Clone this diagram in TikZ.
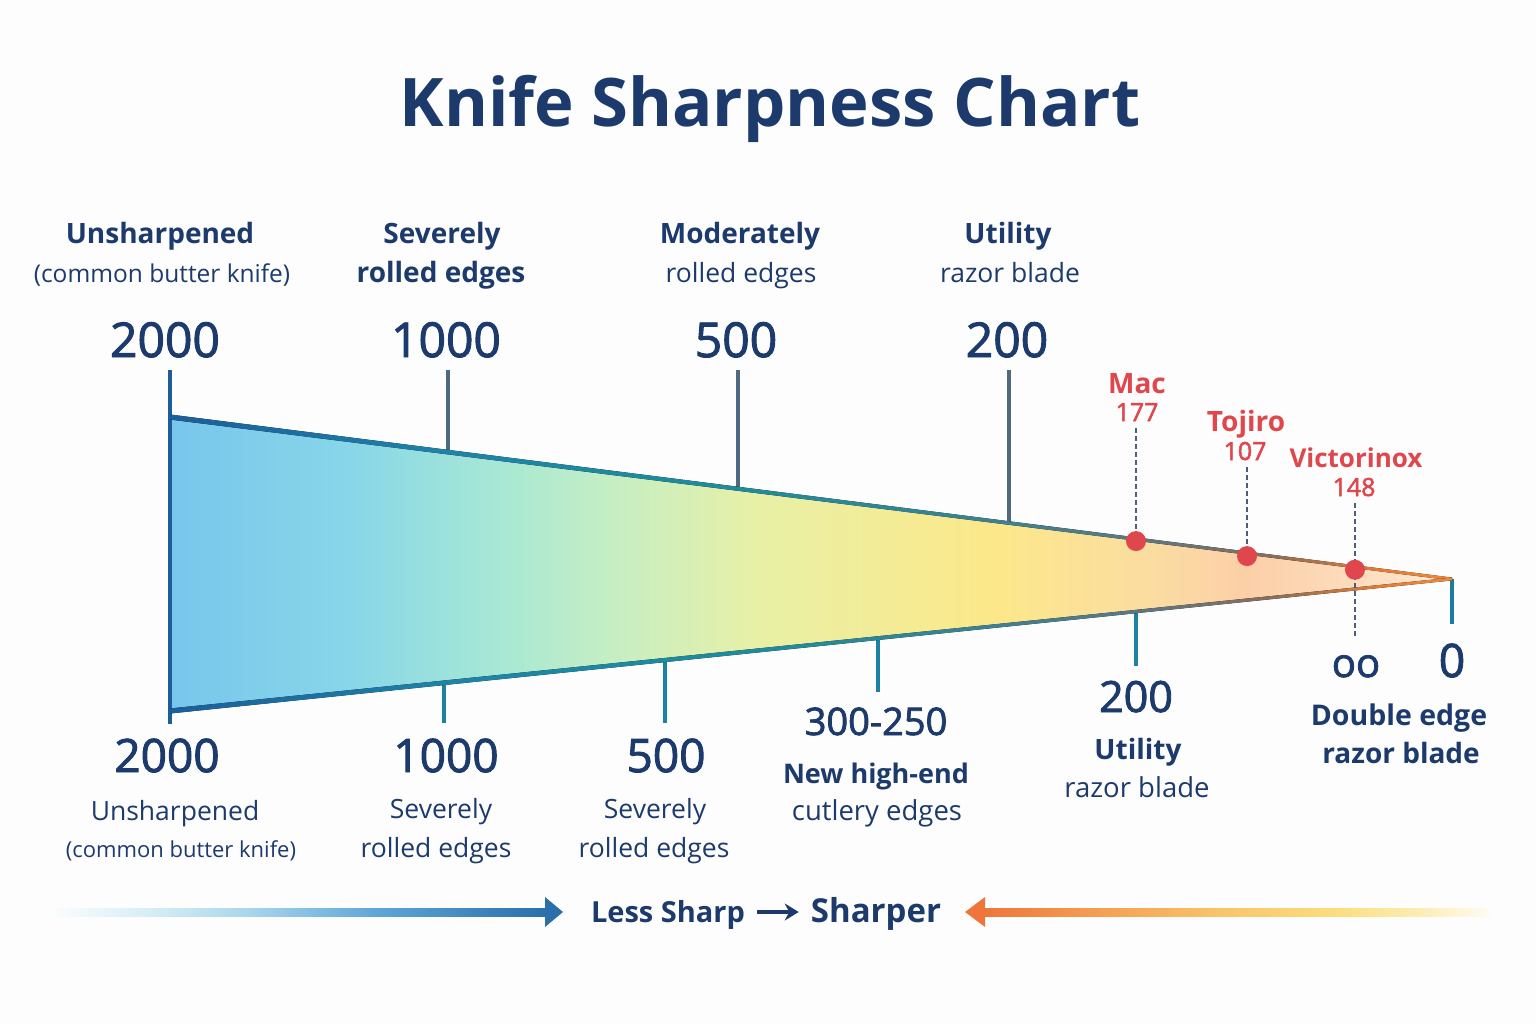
\documentclass[tikz,border=0pt]{standalone}
\usepackage{fontspec}
\setmainfont{Open Sans}
\newfontfamily\numfont[RawFeature={embolden=2}]{Open Sans}
\usetikzlibrary{positioning, arrows.meta, calc}

\definecolor{navy}{HTML}{1C3B6C}
\definecolor{knifered}{HTML}{E0474C}
\definecolor{slate}{HTML}{4F6A80}
\definecolor{tealtick}{HTML}{1B82A3}
\definecolor{edgeblue}{HTML}{1D5E98}
\definecolor{dashgray}{HTML}{4A5E78}
\definecolor{paper}{HTML}{FDFDFE}

% wedge fill colours, blunt to sharp
\definecolor{wA}{HTML}{78C6EC}
\definecolor{wB}{HTML}{88D6E8}
\definecolor{wC}{HTML}{A8E8D4}
\definecolor{wD}{HTML}{C4EEC4}
\definecolor{wE}{HTML}{E8F0A6}
\definecolor{wF}{HTML}{FCE88A}
\definecolor{wG}{HTML}{FBDDA0}
\definecolor{wH}{HTML}{FCCFA8}
\definecolor{wI}{HTML}{FDE2C6}
\definecolor{wJ}{HTML}{FEEEDC}
\pgfdeclarehorizontalshading{wedgefill}{100bp}{color(0bp)=(wA); color(25bp)=(wA);
  color(32bp)=(wB); color(38bp)=(wC); color(42bp)=(wD); color(48bp)=(wE);
  color(57bp)=(wF); color(63bp)=(wG); color(67bp)=(wH); color(73bp)=(wI);
  color(75bp)=(wJ); color(100bp)=(wJ)}

% edge line colours
\definecolor{eA}{HTML}{1B5E9C}
\definecolor{eB}{HTML}{1E84A8}
\definecolor{eC}{HTML}{1E8C9C}
\definecolor{eD}{HTML}{3C8290}
\definecolor{eE}{HTML}{5E7682}
\definecolor{eF}{HTML}{8A6E5A}
\definecolor{eG}{HTML}{E27C36}
\definecolor{eH}{HTML}{F08A3A}
\pgfdeclarehorizontalshading{edgeshade}{100bp}{color(0bp)=(eA); color(25bp)=(eA);
  color(36bp)=(eB); color(47bp)=(eC); color(57bp)=(eD); color(63bp)=(eE);
  color(68bp)=(eF); color(72bp)=(eG); color(75bp)=(eH); color(100bp)=(eH)}

% bottom arrows
\definecolor{bA}{HTML}{FCFDFE}
\definecolor{bB}{HTML}{D6EEF4}
\definecolor{bC}{HTML}{A8D6EC}
\definecolor{bD}{HTML}{5EA6D8}
\definecolor{bE}{HTML}{2A6FAA}
\pgfdeclarehorizontalshading{bluebar}{100bp}{color(0bp)=(bA); color(25bp)=(bA);
  color(35bp)=(bB); color(45bp)=(bC); color(58bp)=(bD); color(75bp)=(bE); color(100bp)=(bE)}
\definecolor{oA}{HTML}{EE763A}
\definecolor{oB}{HTML}{F49A50}
\definecolor{oC}{HTML}{F8C468}
\definecolor{oD}{HTML}{FBDE7E}
\definecolor{oE}{HTML}{FCEDB4}
\definecolor{oF}{HTML}{FEFCF4}
\pgfdeclarehorizontalshading{orangebar}{100bp}{color(0bp)=(oA); color(25bp)=(oA);
  color(35bp)=(oB); color(48bp)=(oC); color(60bp)=(oD); color(68bp)=(oE); color(75bp)=(oF); color(100bp)=(oF)}

\begin{document}
\begin{tikzpicture}[
            x = 1pt, y = -1pt,
            > = Stealth,
            every node/.style = {inner sep=0pt, anchor=base, text=navy},
            charttitle/.style = {font=\fontsize{67}{72}\selectfont\bfseries},
            topnum/.style = {font=\numfont\fontsize{48}{52}\selectfont},
            headbold/.style = {font=\fontsize{28}{32}\selectfont\bfseries},
            headsub/.style = {font=\fontsize{26.5}{30}\selectfont},
            botnum/.style = {font=\numfont\fontsize{46}{50}\selectfont},
            footbold/.style = {font=\fontsize{27}{30}\selectfont\bfseries},
            footsub/.style = {font=\fontsize{26.5}{30}\selectfont},
            brandname/.style = {text=knifered, font=\fontsize{28}{32}\selectfont\bfseries},
            brandval/.style = {text=knifered, font=\numfont\fontsize{25}{28}\selectfont},
            dot/.style = {circle, fill=knifered, minimum size=20pt, anchor=center},
            toptick/.style = {draw=slate, line width=3.5pt, shorten >=12pt},
            bottick/.style = {draw=tealtick, line width=3.5pt, shorten >=15pt},
            dashline/.style = {draw=dashgray, line width=2.8pt, dash pattern=on 5pt off 3pt, shorten <=7pt}
        ]

            % page
            \fill[paper] (0,0) rectangle (1536,1024);
            \useasboundingbox (0,0) rectangle (1536,1024);

            \node[charttitle] (title) at (770,127) {Knife Sharpness Chart};

            % wedge corners
            \coordinate (tl) at (170,417);
            \coordinate (bl) at (170,711);
            \coordinate (tip) at (1452,579);

            % Top scale
            \node[headbold] (h2000) at (160,244) {Unsharpened};
            \node[headsub, font=\fontsize{24.5}{28}\selectfont] (s2000) at (162,283) {(common butter knife)};
            \node[headbold] (h1000) at (442,244) {Severely};
            \node[headbold] (s1000) at (441,283) {rolled edges};
            \node[headbold] (h500) at (740,244) {Moderately};
            \node[headsub] (s500) at (741,283) {rolled edges};
            \node[headbold] (h200) at (1008,244) {Utility};
            \node[headsub] (s200) at (1010,283) {razor blade};

            \node[topnum] (t2000) at (165,357) {2000};
            \node[topnum] (t1000) at (446,357) {1000};
            \node[topnum] (t500) at (736,357) {500};
            \node[topnum] (t200) at (1007,357) {200};

            % Bottom scale
            \node[botnum] (b2000) at (167,772) {2000};
            \node[botnum] (b1000) at (446,772) {1000};
            \node[botnum] (b500) at (666,772) {500};
            \node[botnum, font=\numfont\fontsize{38}{42}\selectfont] (b300) at (876,735) {300-250};
            \node[botnum, font=\numfont\fontsize{43}{46}\selectfont] (b200) at (1136,712) {200};
            \node[botnum, font=\numfont\fontsize{40}{44}\selectfont] (dblzero) at (1356,677) {oo};
            \node[botnum] (zero) at (1452,677) {0};

            \node[footsub] (f2000a) at (175,820) {Unsharpened};
            \node[footsub, font=\fontsize{22}{25}\selectfont] (f2000b) at (181,857) {(common butter knife)};
            \node[footsub] (f1000a) at (441,818) {Severely};
            \node[footsub] (f1000b) at (436,857) {rolled edges};
            \node[footsub] (f500a) at (655,818) {Severely};
            \node[footsub] (f500b) at (654,857) {rolled edges};
            \node[footbold] (f300a) at (876,783) {New high-end};
            \node[footsub, font=\fontsize{27.5}{30}\selectfont] (f300b) at (877,820) {cutlery edges};
            \node[footbold, font=\fontsize{28}{32}\selectfont\bfseries] (f200a) at (1138,759) {Utility};
            \node[footsub, font=\fontsize{27.5}{30}\selectfont] (f200b) at (1137,797) {razor blade};
            \node[footbold, font=\fontsize{28.5}{32}\selectfont\bfseries] (fdbla) at (1399,725) {Double edge};
            \node[footbold, font=\fontsize{28}{32}\selectfont\bfseries] (fdblb) at (1401,763) {razor blade};

            % wedge
            \fill[shading=wedgefill] (tl) -- (tip) -- (bl) -- cycle;

            % tick points on the edges
            \coordinate (e1000) at ($(tl)!0.2168!(tip)$);
            \coordinate (e500) at ($(tl)!0.4431!(tip)$);
            \coordinate (e200) at ($(tl)!0.6544!(tip)$);
            \coordinate (g1000) at ($(bl)!0.2137!(tip)$);
            \coordinate (g500) at ($(bl)!0.3861!(tip)$);
            \coordinate (g300) at ($(bl)!0.5523!(tip)$);
            \coordinate (g200) at ($(bl)!0.7535!(tip)$);

            \draw[toptick] (e1000) -- (e1000 |- t1000.south);
            \draw[toptick] (e500) -- (e500 |- t500.south);
            \draw[toptick] (e200) -- (e200 |- t200.south);
            \draw[bottick] (g1000) -- (g1000 |- b1000.north);
            \draw[bottick] (g500) -- (g500 |- b500.north);
            \draw[bottick] (g300) -- (g300 |- b300.north);
            \draw[bottick] (g200) -- (g200 |- b200.north);
            \draw[draw=tealtick!80!edgeblue, line width=3.5pt, shorten >=19pt] (tip) -- (tip |- zero.north);
            \draw[draw=edgeblue, line width=4pt, shorten <=12pt, shorten >=14pt]
                (tl |- t2000.south) -- (bl |- b2000.north);

            % edges
            \fill[shading=edgeshade] ($(tl)+(0,-2.5)$) -- ($(tip)+(0,-1.4)$) -- ($(tip)+(0,1.4)$) -- ($(tl)+(0,2.5)$) -- cycle;
            \fill[shading=edgeshade] ($(bl)+(0,-2.5)$) -- ($(tip)+(0,-1.4)$) -- ($(tip)+(0,1.4)$) -- ($(bl)+(0,2.5)$) -- cycle;

            % Knives
            \node[brandname] (mac) at (1137,393) {Mac};
            \node[brandval] (macval) at (1137,421) {177};
            \node[brandname] (tojiro) at (1246,431) {Tojiro};
            \node[brandval] (tojval) at (1245,460) {107};
            \node[brandname, font=\fontsize{26}{30}\selectfont\bfseries] (victor) at (1356,467) {Victorinox};
            \node[brandval] (victval) at (1354,496) {148};

            \coordinate (macpt) at ($(tl)!0.7535!(tip)+(0,2)$);
            \coordinate (tojpt) at ($(tl)!0.8401!(tip)+(0,3)$);
            \coordinate (victpt) at ($(tl)!0.9243!(tip)+(0,3)$);

            \draw[dashline] (macpt |- macval.south) -- (macpt);
            \draw[dashline] (tojpt |- tojval.south) -- (tojpt);
            \draw[dashline, shorten >=18pt] (victpt |- victval.south) -- (victpt |- dblzero.north);

            \node[dot] (macdot) at (macpt) {};
            \node[dot] (tojdot) at (tojpt) {};
            \node[dot] (victdot) at (victpt) {};

            % Less Sharp -> Sharper
            \node[font=\fontsize{29}{32}\selectfont\bfseries] (less) at (668,922) {Less Sharp};
            \node[font=\fontsize{33}{36}\selectfont\bfseries] (sharper) at (876,922) {Sharper};
            \draw[->, navy, line width=4pt, shorten <=12pt, shorten >=12pt,
                  >={Stealth[length=14pt, width=17pt]}]
                ([yshift=10pt]less.base east) -- ([yshift=10pt]sharper.base west);

            \fill[shading=bluebar] (50,908) rectangle (546,916);
            \fill[bE] (545,897) -- (563,912) -- (545,927) -- cycle;
            \fill[shading=orangebar] (984,908) rectangle (1490,916);
            \fill[oA] (985,897) -- (965,912) -- (985,927) -- cycle;

        \end{tikzpicture}
\end{document}
